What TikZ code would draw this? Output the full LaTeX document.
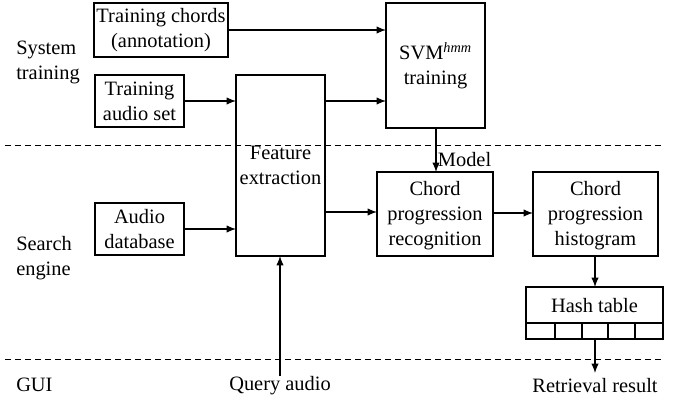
\documentclass[tikz,border=0pt]{standalone}
\usepackage{fontspec}
\setmainfont{Liberation Serif}
\usetikzlibrary{arrows.meta}
\begin{document}
\begin{tikzpicture}[x=0.75pt,y=-0.75pt,
  txt/.style={font=\fontsize{15.3}{18.8}\selectfont, align=center, inner sep=0pt},
  thinbox/.style={draw, line width=0.9pt},
  thickbox/.style={draw, line width=1.8pt},
  arr/.style={line width=0.9pt, -{Latex[length=7pt,width=5.5pt]}},
  sep/.style={line width=0.7pt, dash pattern=on 4.5pt off 3pt}]
\useasboundingbox (0,0) rectangle (678,403);
% separators
\draw[sep] (5,145) -- (662,145);
\draw[sep] (5,359) -- (662,359);
% boxes
\draw[thinbox] (94,3) rectangle (228,57);
\node[txt] (tc) at (161,30) {Training chords\\(annotation)};
\coordinate (tcE) at (228,30);
\draw[thinbox] (95,75) rectangle (184,127);
\node[txt] (ta) at (139.5,101) {Training\\audio set};
\coordinate (taE) at (184,101);
\draw[thinbox] (95,203) rectangle (184,255);
\node[txt] (ad) at (139.5,229) {Audio\\database};
\coordinate (adE) at (184,229);
\draw[thinbox] (236,75) rectangle (325,256);
\node[txt] (fe) at (280.5,165) {Feature\\extraction};
\draw[thickbox] (386,3) rectangle (485,128);
\node[txt] (svm) at (435.5,66) {SVM\textsuperscript{\itshape hmm}\\training};
\draw[thickbox] (377,172) rectangle (493,256);
\node[txt] (cr) at (435,216) {Chord\\progression\\recognition};
\draw[thickbox] (533,172) rectangle (658,256);
\node[txt] (ch) at (595.5,216) {Chord\\progression\\histogram};
\draw[thickbox] (526,287) rectangle (663,339);
\draw[line width=0.9pt] (526,323) -- (663,323);
\foreach \xx in {555,582,608,635} \draw[line width=0.9pt] (\xx,323) -- (\xx,339);
\node[txt] (ht) at (594.5,306) {Hash table};
% labels
\node[txt, anchor=west, align=left] (st) at (16,62) {System\\training};
\node[txt, anchor=west, align=left] (se) at (16,258) {Search\\engine};
\node[txt, anchor=west] (gui) at (16,385) {GUI};
\node[txt] (qa) at (280,386) {Query audio};
\node[txt] (rr) at (595,386) {Retrieval result};
% arrows
\draw[arr] (tcE) -- (386,30);
\draw[arr] (taE) -- (236,101);
\draw[arr] (325,101) -- (386,101);
\draw[arr] (adE) -- (236,229);
\draw[arr] (325,212) -- (377,212);
\draw[arr] (436,128) -- node[txt, anchor=west, pos=0.72, xshift=1pt] {Model} (436,172);
\draw[arr] (493,213) -- (533,213);
\draw[arr] (595,256) -- (595,287);
\draw[arr] (595,339) -- (595,373);
\draw[arr] (280,376) -- (280,256);
\end{tikzpicture}
\end{document}
